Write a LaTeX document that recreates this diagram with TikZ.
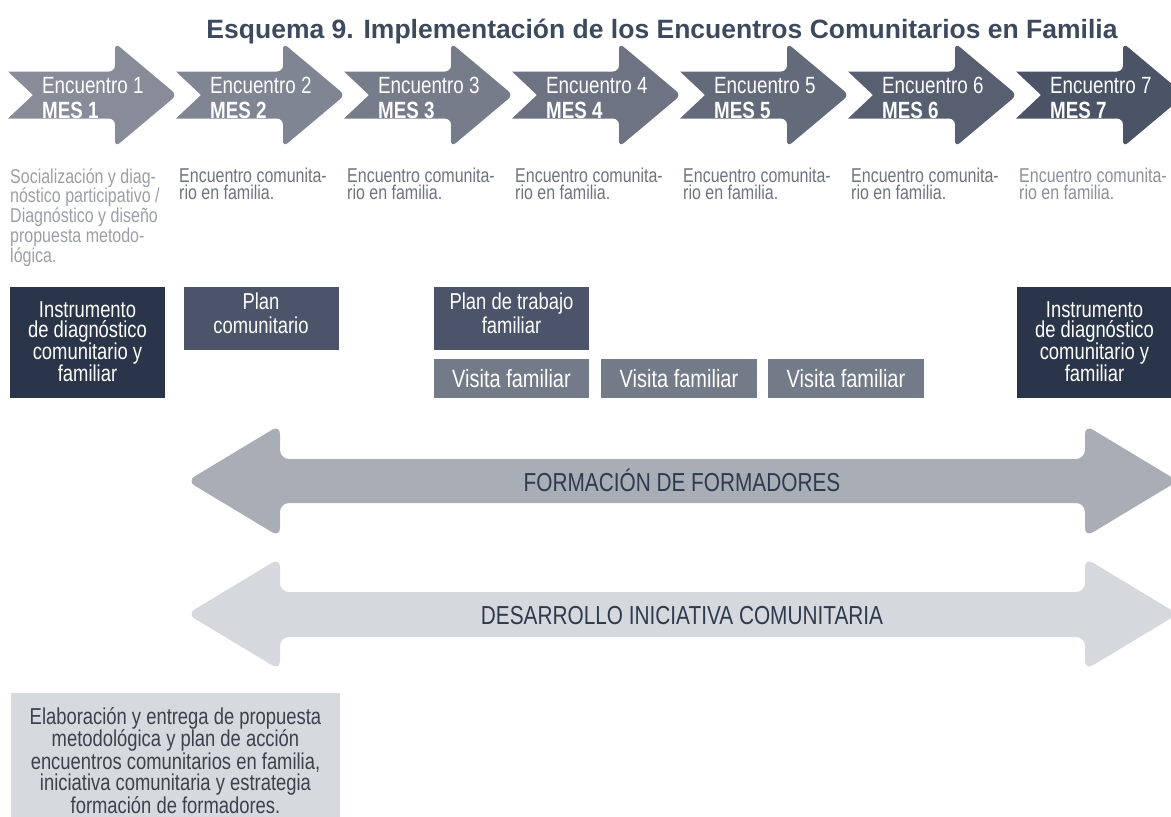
\documentclass[tikz,border=0pt]{standalone}
\usepackage{fontspec}
\setmainfont{Liberation Sans}
\newfontfamily\cond[FakeStretch=0.8]{Liberation Sans}
\setlength{\lineskiplimit}{-100pt}
\definecolor{ch1}{HTML}{878C98}
\definecolor{ch2}{HTML}{7F8593}
\definecolor{ch3}{HTML}{767C8A}
\definecolor{ch4}{HTML}{6D7382}
\definecolor{ch5}{HTML}{636A7A}
\definecolor{ch6}{HTML}{575F71}
\definecolor{ch7}{HTML}{4B5366}
\definecolor{dscA}{HTML}{9A9EA7}
\definecolor{dscB}{HTML}{6E7380}
\definecolor{dscC}{HTML}{8C909A}
\definecolor{navy}{HTML}{2B3549}
\definecolor{midbox}{HTML}{4B5468}
\definecolor{visbox}{HTML}{747B88}
\definecolor{arrA}{HTML}{A9AEB6}
\definecolor{arrB}{HTML}{D5D8DD}
\definecolor{darktxt}{HTML}{2F3A4F}
\definecolor{titlec}{HTML}{3D4A5E}
\definecolor{botbox}{HTML}{D6D9DE}
\definecolor{bottxt}{HTML}{3C414B}
\tikzset{
  chevtxt/.style={inner sep=0pt, anchor=base west, text=white, font=\cond\fontsize{23.5}{24}\selectfont},
  mestxt/.style={inner sep=0pt, anchor=base west, text=white, font=\cond\bfseries\fontsize{23.5}{24}\selectfont},
  desc/.style={inner sep=0pt, anchor=base west, font=\cond\fontsize{20}{17}\selectfont},
  boxshape/.style={rectangle, inner sep=0pt, draw=none},
  boxtxt/.style={inner sep=0pt, anchor=base, text=white, font=\cond\fontsize{23}{20}\selectfont},
  vistxt/.style={inner sep=0pt, anchor=base, text=white, font=\cond\fontsize{25}{26}\selectfont},
  arrtxt/.style={inner sep=0pt, anchor=base, text=darktxt, font=\cond\fontsize{26}{28}\selectfont},
}
\begin{document}
\begin{tikzpicture}[x=1pt,y=-1pt]
\useasboundingbox (0,0) rectangle (1171,817);

% title
\node[inner sep=0pt, anchor=base, text=titlec, font=\bfseries\fontsize{26.5}{28}\selectfont] (title) at (662,38) {Esquema 9. Implementación de los Encuentros Comunitarios en Familia};

% chevrons
\foreach \k/\cc in {1/ch1,2/ch2,3/ch3,4/ch4,5/ch5,6/ch6,7/ch7}{
  \pgfmathsetmacro\L{8+168*(\k-1)}
  \fill[\cc] (\L+50,71.5) [rounded corners=6pt] -- (\L+107,71.5) -- (\L+107,43) -- (\L+169,95) -- (\L+107,147) -- (\L+107,118.5) -- (\L+50,118.5) [sharp corners] -- (\L,118.5) -- (\L+25,95) -- (\L,71.5) -- cycle;
  \node[chevtxt] (enc\k) at (\L+34,93) {Encuentro \k};
  \node[mestxt] (mes\k) at (\L+34,118) {MES \k};
}

% descriptions
\node[desc, text=dscA] (d1) at (10,183) {\parbox[t]{175pt}{\raggedright Socialización y diag-\\nóstico participativo /\\Diagnóstico y diseño\\propuesta metodo-\\lógica.}};
\foreach \k/\dc in {2/dscB,3/dscB,4/dscB,5/dscB,6/dscB,7/dscC}{
  \pgfmathsetmacro\L{8+168*(\k-1)}
  \node[desc, text=\dc] (d\k) at (\L+3,182) {\parbox[t]{170pt}{\raggedright Encuentro comunita-\\rio en familia.}};
}

% boxes
\node[boxshape, fill=navy, minimum width=155pt, minimum height=111pt] (instA) at (87.5,342.5) {};
\node[boxtxt] (instAt) at (87.5,317) {\parbox[t]{150pt}{\centering Instrumento\\de diagnóstico\\comunitario y\\familiar}};
\node[boxshape, fill=midbox, minimum width=155pt, minimum height=63pt] (planC) at (261,318.5) {};
\node[boxtxt, font=\cond\fontsize{23}{24}\selectfont] (planCt) at (261,309) {\parbox[t]{150pt}{\centering Plan\\comunitario}};
\node[boxshape, fill=midbox, minimum width=155pt, minimum height=63pt] (planT) at (511.5,318.5) {};
\node[boxtxt, font=\cond\fontsize{23}{24}\selectfont] (planTt) at (511.5,309) {\parbox[t]{150pt}{\centering Plan de trabajo\\familiar}};
\node[boxshape, fill=visbox, minimum width=155pt, minimum height=39pt] (vis1) at (511.5,378.5) {};
\node[vistxt] (vis1t) at (511.5,387) {Visita familiar};
\node[boxshape, fill=visbox, minimum width=156pt, minimum height=39pt] (vis2) at (679,378.5) {};
\node[vistxt] (vis2t) at (679,387) {Visita familiar};
\node[boxshape, fill=visbox, minimum width=156pt, minimum height=39pt] (vis3) at (846,378.5) {};
\node[vistxt] (vis3t) at (846,387) {Visita familiar};
\node[boxshape, fill=navy, minimum width=155pt, minimum height=111pt] (instB) at (1094.5,342.5) {};
\node[boxtxt] (instBt) at (1094.5,317) {\parbox[t]{150pt}{\centering Instrumento\\de diagnóstico\\comunitario y\\familiar}};

% double arrows
\fill[arrA, rounded corners=9pt] (600,459) -- (1085,459) -- (1085,425) -- (1178,481) -- (1085,537) -- (1085,503) -- (280,503) -- (280,537) -- (187,481) -- (280,425) -- (280,459) -- cycle;
\node[arrtxt] (ff) at (682,491) {FORMACIÓN DE FORMADORES};
\fill[arrB, rounded corners=9pt] (600,592) -- (1085,592) -- (1085,558) -- (1178,614) -- (1085,670) -- (1085,637) -- (280,637) -- (280,670) -- (187,614) -- (280,558) -- (280,592) -- cycle;
\node[arrtxt] (dic) at (682,624) {DESARROLLO INICIATIVA COMUNITARIA};

% bottom box
\node[boxshape, fill=botbox, minimum width=329pt, minimum height=125pt] (bot) at (175.5,755.5) {};
\node[boxtxt, text=bottxt, font=\cond\fontsize{23}{21.2}\selectfont] (bott) at (175.5,724) {\parbox[t]{325pt}{\centering Elaboración y entrega de propuesta\\metodológica y plan de acción\\encuentros comunitarios en familia,\\iniciativa comunitaria y estrategia\\formación de formadores.}};
\end{tikzpicture}
\end{document}
